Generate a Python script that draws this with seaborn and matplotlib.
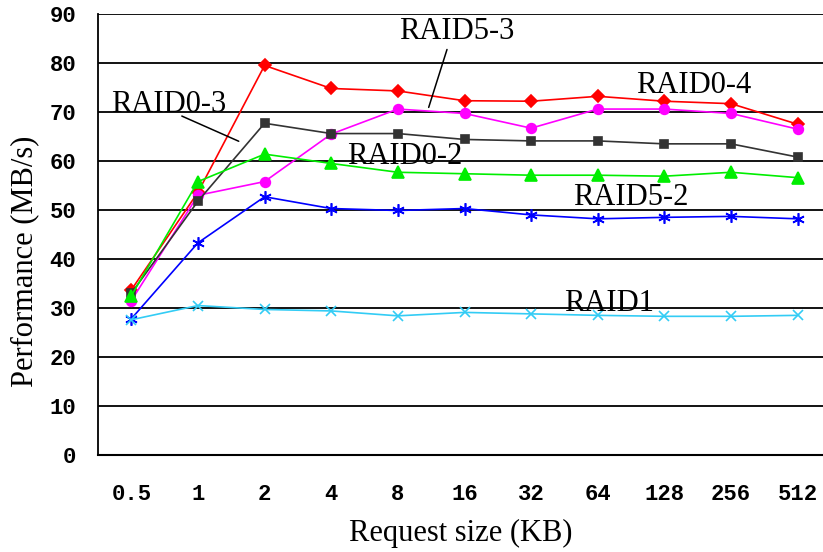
import matplotlib
matplotlib.use("Agg")
import matplotlib.pyplot as plt
import seaborn as sns
import pandas as pd
import numpy as np

sizes = ["0.5", "1", "2", "4", "8", "16", "32", "64", "128", "256", "512"]
raid0_4 = [33.7, 53.6, 79.5, 74.8, 74.3, 72.3, 72.2, 73.2, 72.2, 71.7, 67.5]
raid5_3 = [31.5, 53.0, 55.8, 65.5, 70.6, 69.7, 66.7, 70.6, 70.6, 69.7, 66.5]
raid0_3 = [33.0, 51.8, 67.7, 65.6, 65.6, 64.4, 64.1, 64.1, 63.5, 63.5, 60.8]
raid0_2 = [32.5, 55.8, 61.4, 59.5, 57.7, 57.4, 57.1, 57.1, 56.9, 57.7, 56.6]
raid5_2 = [27.8, 43.3, 52.7, 50.3, 49.9, 50.3, 49.0, 48.2, 48.5, 48.7, 48.2]
raid1 = [27.6, 30.5, 29.7, 29.4, 28.4, 29.1, 28.8, 28.5, 28.3, 28.3, 28.5]
yticks = [0, 10, 20, 30, 40, 50, 60, 70, 80, 90]

series = {
    "RAID0-4": raid0_4,
    "RAID5-3": raid5_3,
    "RAID0-3": raid0_3,
    "RAID0-2": raid0_2,
    "RAID5-2": raid5_2,
    "RAID1": raid1,
}
styles = {
    "RAID0-4": dict(color="#ff0000", marker="D", ms=6),
    "RAID5-3": dict(color="#ff00ff", marker="o", ms=7),
    "RAID0-3": dict(color="#333333", marker="s", ms=6),
    "RAID0-2": dict(color="#00ee00", marker="^", ms=8),
    "RAID5-2": dict(color="#0000ff", marker=(6, 2, 0), ms=9),
    "RAID1": dict(color="#33ccf5", marker="x", ms=7),
}

rows = []
for name, vals in series.items():
    for i, (s, v) in enumerate(zip(sizes, vals)):
        rows.append({"series": name, "pos": i, "size": s, "value": v})
df = pd.DataFrame(rows)

sns.set_style("white")
fig = plt.figure(figsize=(8.23, 5.52), dpi=100)
ax = fig.add_axes([98 / 823, 97 / 552, 733 / 823, 441 / 552])

for name in series:
    st = styles[name]
    sub = df[df["series"] == name]
    sns.lineplot(data=sub, x="pos", y="value", ax=ax, color=st["color"],
                 marker=st["marker"], markersize=st["ms"], markeredgecolor=st["color"],
                 markeredgewidth=1.2, linewidth=1.2, legend=False, zorder=3)

ax.set_xlim(-0.5, 10.5)
ax.set_ylim(0, 90)
ax.set_yticks(yticks)
ax.set_yticklabels([str(t) for t in yticks])
ax.set_xticks(range(len(sizes)))
ax.set_xticklabels(sizes)
ax.set_xticks(np.arange(0.5, 10.5, 1), minor=True)
ax.yaxis.grid(True, color="black", linewidth=1.3)
ax.set_axisbelow(True)
for sp in ["top", "right"]:
    ax.spines[sp].set_visible(False)
ax.spines["left"].set_color("black")
ax.spines["bottom"].set_color("black")
ax.spines["left"].set_linewidth(1.3)
ax.spines["bottom"].set_linewidth(1.5)

mono = dict(family="Liberation Mono", weight="bold", size=16)
ax.tick_params(axis="y", which="major", length=0, pad=15.5)
ax.tick_params(axis="x", which="major", length=0, pad=21)
ax.tick_params(axis="x", which="minor", direction="in", length=9, width=1.2, color="black")
for lab in ax.get_xticklabels() + ax.get_yticklabels():
    lab.set_fontproperties(mono)
    lab.set_color("black")

serif = "Liberation Serif"
ax.set_xlabel("Request size (KB)", family=serif, size=22, color="black")
ax.set_ylabel("Performance (MB/s)", family=serif, size=22, color="black")
ax.xaxis.set_label_coords(0.495, -0.145)
ax.yaxis.set_label_coords(-0.08, 0.44)

lab_kw = dict(family=serif, size=22, ha="center", va="center", color="black", zorder=5)
ax.text(4.89, 86.4, "RAID5-3", **lab_kw)
ax.annotate("", xy=(4.45, 70.4), xytext=(4.75, 83.3),
            arrowprops=dict(arrowstyle="-", color="black", lw=1.1))
ax.text(0.56, 71.5, "RAID0-3", **lab_kw)
ax.annotate("", xy=(1.65, 63.8), xytext=(0.72, 69.4),
            arrowprops=dict(arrowstyle="-", color="black", lw=1.1))
ax.text(4.1, 61.0, "RAID0-2", **lab_kw)
ax.text(8.44, 75.5, "RAID0-4", **lab_kw)
ax.text(7.5, 52.6, "RAID5-2", **lab_kw)
ax.text(7.17, 31.0, "RAID1", **lab_kw)

fig.savefig("out.png", dpi=100)
